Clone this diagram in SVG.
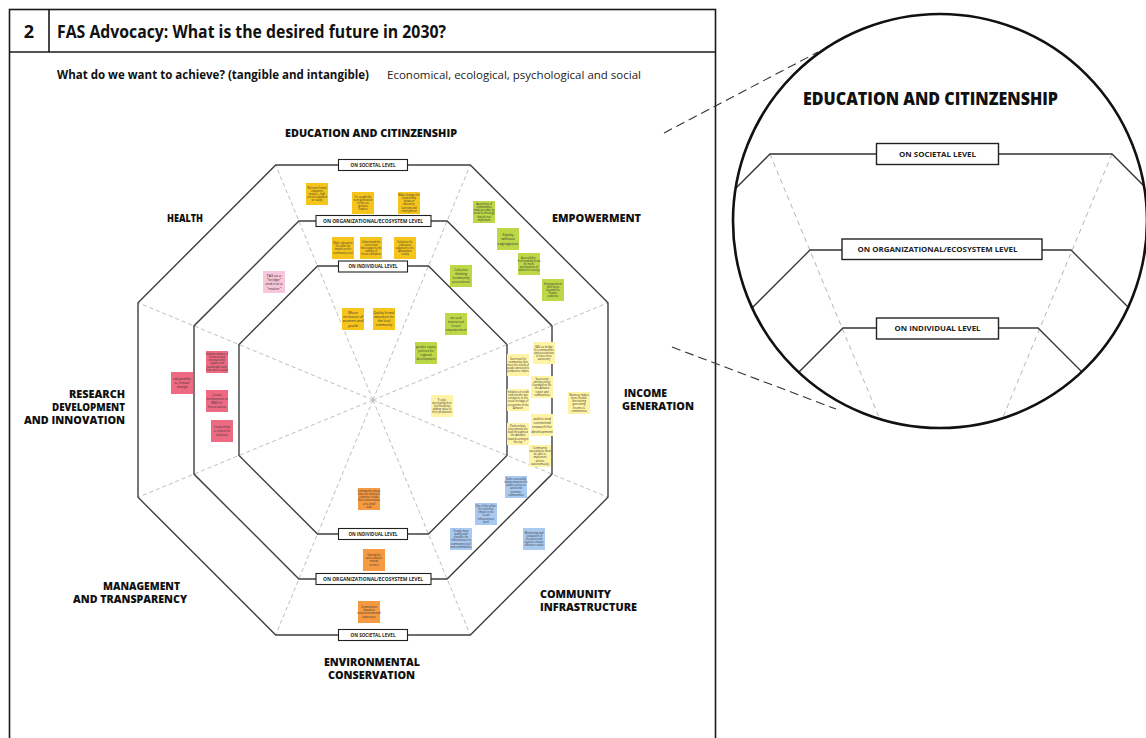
<svg xmlns="http://www.w3.org/2000/svg" width="1146" height="738" viewBox="0 0 1146 738">
<defs>
<style>
.frame{fill:none;stroke:#1a1a1a;stroke-width:1.6}
.oct{fill:none;stroke:#3f3f3f;stroke-width:1.4;stroke-linejoin:miter}
.rad{stroke:#bdbdbd;stroke-width:1;stroke-dasharray:4 3;fill:none}
.lvl{fill:#fff;stroke:#222;stroke-width:1.1}
.lvt{font-family:"Open Sans","DejaVu Sans",sans-serif;font-weight:700;font-size:4.3px;fill:#222;text-anchor:middle}
.cat{font-family:"Open Sans","DejaVu Sans",sans-serif;font-weight:800;font-size:10.5px;fill:#111}
.nt{font-family:"Open Sans","Liberation Sans",sans-serif;font-size:2.6px;fill:#333;text-anchor:middle}
.yel{fill:#f6c51b}
.grn{fill:#bdd847}
.lye{fill:#fff4a6}
.blu{fill:#a9c9f1}
.org{fill:#f69a42}
.red{fill:#ee6a83}
.pnk{fill:#f8c6da}
.mline{fill:none;stroke:#333;stroke-width:1.3}
.mrad{stroke:#b5b5b5;stroke-width:1;stroke-dasharray:5 4;fill:none}
.mbox{fill:#fff;stroke:#222;stroke-width:1.4}
.mt{font-family:"Open Sans","DejaVu Sans",sans-serif;font-weight:700;font-size:7px;fill:#222;text-anchor:middle}
.conn{stroke:#333;stroke-width:1.1;stroke-dasharray:9 5;fill:none}
</style>
<clipPath id="circ"><circle cx="940" cy="221" r="207"/></clipPath>
</defs>
<rect width="1146" height="738" fill="#fff"/>

<g id="frame">
<rect x="9.5" y="9.5" width="706" height="740" class="frame"/>
<line x1="9.5" y1="52" x2="715.5" y2="52" class="frame"/>
<line x1="49" y1="9.5" x2="49" y2="52" class="frame"/>
<text x="29" y="37.5" font-family="Open Sans, DejaVu Sans, sans-serif" font-weight="700" font-size="18" text-anchor="middle" fill="#111">2</text>
<text x="57" y="37.5" font-family="Open Sans, DejaVu Sans, sans-serif" font-weight="700" font-size="17" fill="#111" textLength="389" lengthAdjust="spacingAndGlyphs">FAS Advocacy: What is the desired future in 2030?</text>
<text x="57" y="79" font-family="Open Sans, DejaVu Sans, sans-serif" font-weight="700" font-size="11.5" fill="#111" textLength="312" lengthAdjust="spacingAndGlyphs">What do we want to achieve? (tangible and intangible)</text>
<text x="387" y="79" font-family="Open Sans, DejaVu Sans, sans-serif" font-size="11.5" fill="#222" textLength="254" lengthAdjust="spacingAndGlyphs">Economical, ecological, psychological and social</text>
</g>

<g id="octagon">
<g id="radials">
<line x1="373" y1="400" x2="275.7" y2="165" class="rad"/>
<line x1="373" y1="400" x2="470.3" y2="165" class="rad"/>
<line x1="373" y1="400" x2="608" y2="302.7" class="rad"/>
<line x1="373" y1="400" x2="608" y2="497.3" class="rad"/>
<line x1="373" y1="400" x2="470.3" y2="635" class="rad"/>
<line x1="373" y1="400" x2="275.7" y2="635" class="rad"/>
<line x1="373" y1="400" x2="138" y2="497.3" class="rad"/>
<line x1="373" y1="400" x2="138" y2="302.7" class="rad"/>
</g>
<polygon id="outer" class="oct" points="275.7,165 470.3,165 608,302.7 608,497.3 470.3,635 275.7,635 138,497.3 138,302.7"/>
<polygon id="middle" class="oct" points="298.9,221 447.1,221 552,325.9 552,474.1 447.1,579 298.9,579 194,474.1 194,325.9"/>
<polygon id="inner" class="oct" points="317.5,266 428.5,266 507,344.5 507,455.5 428.5,534 317.5,534 239,455.5 239,344.5"/>
</g>

<g id="level-top-societal"><rect x="338.5" y="159.5" width="69" height="11" class="lvl"/><text x="373" y="166.5" class="lvt" textLength="45" lengthAdjust="spacingAndGlyphs">ON SOCIETAL LEVEL</text></g>
<g id="level-top-org"><rect x="316" y="215.5" width="115" height="11" class="lvl"/><text x="373" y="222.5" class="lvt" textLength="100" lengthAdjust="spacingAndGlyphs">ON ORGANIZATIONAL/ECOSYSTEM LEVEL</text></g>
<g id="level-top-ind"><rect x="338.5" y="261" width="69" height="11" class="lvl"/><text x="373" y="268" class="lvt" textLength="49" lengthAdjust="spacingAndGlyphs">ON INDIVIDUAL LEVEL</text></g>
<g id="level-bot-ind"><rect x="338.5" y="528.5" width="69" height="11" class="lvl"/><text x="373" y="535.5" class="lvt" textLength="49" lengthAdjust="spacingAndGlyphs">ON INDIVIDUAL LEVEL</text></g>
<g id="level-bot-org"><rect x="316" y="573.5" width="115" height="11" class="lvl"/><text x="373" y="580.5" class="lvt" textLength="100" lengthAdjust="spacingAndGlyphs">ON ORGANIZATIONAL/ECOSYSTEM LEVEL</text></g>
<g id="level-bot-soc"><rect x="338.5" y="629.5" width="69" height="11" class="lvl"/><text x="373" y="636.5" class="lvt" textLength="45" lengthAdjust="spacingAndGlyphs">ON SOCIETAL LEVEL</text></g>

<g id="categories">
<text id="cat-edu" x="285" y="137" class="cat" textLength="172" lengthAdjust="spacingAndGlyphs">EDUCATION AND CITINZENSHIP</text>
<text id="cat-health" x="167" y="222" class="cat" textLength="36" lengthAdjust="spacingAndGlyphs">HEALTH</text>
<text id="cat-emp" x="552" y="222" class="cat" textLength="89" lengthAdjust="spacingAndGlyphs">EMPOWERMENT</text>
<g id="cat-income"><text x="624" y="397" class="cat" textLength="43" lengthAdjust="spacingAndGlyphs">INCOME</text><text x="622" y="410" class="cat" textLength="72" lengthAdjust="spacingAndGlyphs">GENERATION</text></g>
<g id="cat-infra"><text x="540" y="598" class="cat" textLength="71" lengthAdjust="spacingAndGlyphs">COMMUNITY</text><text x="540" y="611" class="cat" textLength="97" lengthAdjust="spacingAndGlyphs">INFRASTRUCTURE</text></g>
<g id="cat-env"><text x="324" y="666" class="cat" textLength="96" lengthAdjust="spacingAndGlyphs">ENVIRONMENTAL</text><text x="328" y="679" class="cat" textLength="87" lengthAdjust="spacingAndGlyphs">CONSERVATION</text></g>
<g id="cat-mgmt"><text x="103" y="590" class="cat" textLength="77" lengthAdjust="spacingAndGlyphs">MANAGEMENT</text><text x="73" y="603" class="cat" textLength="114" lengthAdjust="spacingAndGlyphs">AND TRANSPARENCY</text></g>
<g id="cat-research"><text x="69" y="398" class="cat" textLength="56" lengthAdjust="spacingAndGlyphs">RESEARCH</text><text x="52" y="411" class="cat" textLength="73" lengthAdjust="spacingAndGlyphs">DEVELOPMENT</text><text x="24" y="424" class="cat" textLength="101" lengthAdjust="spacingAndGlyphs">AND INNOVATION</text></g>
</g>

<g id="notes">
<g id="n-y1"><rect x="306" y="183" width="22" height="22" class="yel"/><text class="nt"><tspan x="317" y="188.7">Relevant formal</tspan><tspan x="317" dy="3.1">education</tspan><tspan x="317" dy="3.1">models - high</tspan><tspan x="317" dy="3.1">schools adapted</tspan><tspan x="317" dy="3.1">to reality</tspan></text></g>
<g id="n-y2"><rect x="352" y="192" width="22" height="22" class="yel"/><text class="nt"><tspan x="363" y="197.7">I've sought the</tspan><tspan x="363" dy="3.1">next generation</tspan><tspan x="363" dy="3.1">to face as</tspan><tspan x="363" dy="3.1">genuine</tspan><tspan x="363" dy="3.1">leaders</tspan></text></g>
<g id="n-y3"><rect x="398" y="192" width="22" height="22" class="yel"/><text class="nt"><tspan x="409" y="196.15">Make changes for</tspan><tspan x="409" dy="3.1">relationship</tspan><tspan x="409" dy="3.1">between</tspan><tspan x="409" dy="3.1">education,</tspan><tspan x="409" dy="3.1">learning and</tspan><tspan x="409" dy="3.1">employment</tspan></text></g>
<g id="n-y4"><rect x="332" y="237" width="22" height="22" class="yel"/><text class="nt"><tspan x="343" y="244.25">Make education</tspan><tspan x="343" dy="3.1">the pillar for</tspan><tspan x="343" dy="3.1">impact on the</tspan><tspan x="343" dy="3.1">community level</tspan></text></g>
<g id="n-y5"><rect x="360" y="237" width="22" height="22" class="yel"/><text class="nt"><tspan x="371" y="242.7">Understand the</tspan><tspan x="371" dy="3.1">connection</tspan><tspan x="371" dy="3.1">that supports the</tspan><tspan x="371" dy="3.1">viability of</tspan><tspan x="371" dy="3.1">forest education</tspan></text></g>
<g id="n-y6"><rect x="394" y="237" width="22" height="22" class="yel"/><text class="nt"><tspan x="405" y="242.7">Solutions for</tspan><tspan x="405" dy="3.1">education</tspan><tspan x="405" dy="3.1">adapted to the</tspan><tspan x="405" dy="3.1">Amazonian</tspan><tspan x="405" dy="3.1">reality</tspan></text></g>
<g id="n-y7"><rect x="342" y="308" width="22" height="22" class="yel"/><text class="nt" style="font-size:3.8px"><tspan x="353" y="313.5">More</tspan><tspan x="353" dy="4.4">inclusion of</tspan><tspan x="353" dy="4.4">women and</tspan><tspan x="353" dy="4.4">youth</tspan></text></g>
<g id="n-y8"><rect x="373" y="308" width="22" height="22" class="yel"/><text class="nt" style="font-size:3.2px"><tspan x="384" y="314.3">Quality formal</tspan><tspan x="384" dy="3.9">education for</tspan><tspan x="384" dy="3.9">the local</tspan><tspan x="384" dy="3.9">community</tspan></text></g>
<g id="n-h1"><rect x="263" y="271" width="22" height="22" class="pnk"/><text class="nt" style="font-size:3.8px"><tspan x="274" y="276.5">FAS as a</tspan><tspan x="274" dy="4.4">"bridge"</tspan><tspan x="274" dy="4.4">and not a</tspan><tspan x="274" dy="4.4">"maker"</tspan></text></g>
<g id="n-g1"><rect x="473" y="201" width="22" height="22" class="grn"/><text class="nt"><tspan x="484" y="205.15">Autonomy of</tspan><tspan x="484" dy="3.1">communities</tspan><tspan x="484" dy="3.1">made possible by</tspan><tspan x="484" dy="3.1">social technology</tspan><tspan x="484" dy="3.1">that do not</tspan><tspan x="484" dy="3.1">implement</tspan></text></g>
<g id="n-g2"><rect x="497" y="228" width="22" height="22" class="grn"/><text class="nt" style="font-size:3.8px"><tspan x="508" y="235.8">Equity</tspan><tspan x="508" dy="4.4">without</tspan><tspan x="508" dy="4.4">segregation</tspan></text></g>
<g id="n-g3"><rect x="518" y="253" width="22" height="22" class="grn"/><text class="nt"><tspan x="529" y="258.7">Accessibility -</tspan><tspan x="529" dy="3.1">from making room</tspan><tspan x="529" dy="3.1">for more</tspan><tspan x="529" dy="3.1">participation of</tspan><tspan x="529" dy="3.1">women in society</tspan></text></g>
<g id="n-g4"><rect x="542" y="279" width="22" height="22" class="grn"/><text class="nt"><tspan x="553" y="284.7">Empowerment</tspan><tspan x="553" dy="3.1">with focus</tspan><tspan x="553" dy="3.1">beyond the</tspan><tspan x="553" dy="3.1">female</tspan><tspan x="553" dy="3.1">audience</tspan></text></g>
<g id="n-g5"><rect x="450" y="265" width="22" height="22" class="grn"/><text class="nt" style="font-size:3.1px"><tspan x="461" y="271.3">Collective</tspan><tspan x="461" dy="3.8">thinking</tspan><tspan x="461" dy="3.8">(community</tspan><tspan x="461" dy="3.8">associations)</tspan></text></g>
<g id="n-g6"><rect x="445" y="313" width="22" height="22" class="grn"/><text class="nt" style="font-size:3.1px"><tspan x="456" y="319.3">we seek</tspan><tspan x="456" dy="3.8">transversal</tspan><tspan x="456" dy="3.8">(cross)</tspan><tspan x="456" dy="3.8">empowerment</tspan></text></g>
<g id="n-g7"><rect x="415" y="342" width="22" height="22" class="grn"/><text class="nt" style="font-size:3.1px"><tspan x="426" y="348.3">gender equity</tspan><tspan x="426" dy="3.8">policies for</tspan><tspan x="426" dy="3.8">regional</tspan><tspan x="426" dy="3.8">development</tspan></text></g>
<g id="n-l1"><rect x="533" y="342" width="22" height="22" class="lye"/><text class="nt"><tspan x="544" y="347.7">FAS is a bridge</tspan><tspan x="544" dy="3.1">for communities</tspan><tspan x="544" dy="3.1">and associations</tspan><tspan x="544" dy="3.1">to have more</tspan><tspan x="544" dy="3.1">autonomy</tspan></text></g>
<g id="n-l2"><rect x="507" y="354" width="22" height="22" class="lye"/><text class="nt"><tspan x="518" y="359.7">Gain trust for</tspan><tspan x="518" dy="3.1">community that</tspan><tspan x="518" dy="3.1">meet the needs of</tspan><tspan x="518" dy="3.1">people attracted to</tspan><tspan x="518" dy="3.1">productive chains</tspan></text></g>
<g id="n-l3"><rect x="531" y="376" width="22" height="22" class="lye"/><text class="nt"><tspan x="542" y="380.15">Succession</tspan><tspan x="542" dy="3.1">and tax policy</tspan><tspan x="542" dy="3.1">foundations for</tspan><tspan x="542" dy="3.1">the Amazon</tspan><tspan x="542" dy="3.1">region and</tspan><tspan x="542" dy="3.1">communities</tspan></text></g>
<g id="n-l4"><rect x="507" y="389" width="22" height="22" class="lye"/><text class="nt"><tspan x="518" y="393.15">Initiative on credit</tspan><tspan x="518" dy="3.1">and transfer tax</tspan><tspan x="518" dy="3.1">conducive to the</tspan><tspan x="518" dy="3.1">social heritage of</tspan><tspan x="518" dy="3.1">ecosystems in the</tspan><tspan x="518" dy="3.1">Amazon</tspan></text></g>
<g id="n-l5"><rect x="568" y="392" width="22" height="22" class="lye"/><text class="nt"><tspan x="579" y="396.15">Business makes</tspan><tspan x="579" dy="3.1">more flexible</tspan><tspan x="579" dy="3.1">functioning</tspan><tspan x="579" dy="3.1">generating</tspan><tspan x="579" dy="3.1">income to</tspan><tspan x="579" dy="3.1">communities</tspan></text></g>
<g id="n-l6"><rect x="431" y="395" width="22" height="22" class="lye"/><text class="nt"><tspan x="442" y="400.7">People</tspan><tspan x="442" dy="3.1">developing their</tspan><tspan x="442" dy="3.1">livelihoods by</tspan><tspan x="442" dy="3.1">adding value to</tspan><tspan x="442" dy="3.1">their production</tspan></text></g>
<g id="n-l7"><rect x="531" y="414" width="22" height="22" class="lye"/><text class="nt" style="font-size:3.5px"><tspan x="542" y="419.96">and to end</tspan><tspan x="542" dy="4.2">connected</tspan><tspan x="542" dy="4.2">research for</tspan><tspan x="542" dy="4.2">development</tspan></text></g>
<g id="n-l8"><rect x="507" y="423" width="22" height="22" class="lye"/><text class="nt"><tspan x="518" y="427.15">Partnerships,</tspan><tspan x="518" dy="3.1">investments are</tspan><tspan x="518" dy="3.1">built throughout</tspan><tspan x="518" dy="3.1">the Amazon</tspan><tspan x="518" dy="3.1">towards acting at</tspan><tspan x="518" dy="3.1">the top</tspan></text></g>
<g id="n-l9"><rect x="529" y="445" width="22" height="22" class="lye"/><text class="nt"><tspan x="540" y="449.15">Community</tspan><tspan x="540" dy="3.1">associations must</tspan><tspan x="540" dy="3.1">be able to</tspan><tspan x="540" dy="3.1">implement</tspan><tspan x="540" dy="3.1">actions</tspan><tspan x="540" dy="3.1">autonomously</tspan></text></g>
<g id="n-b1"><rect x="505" y="476" width="22" height="22" class="blu"/><text class="nt"><tspan x="516" y="480.15">Some successful</tspan><tspan x="516" dy="3.1">demonstrations for</tspan><tspan x="516" dy="3.1">public service in</tspan><tspan x="516" dy="3.1">spiral and</tspan><tspan x="516" dy="3.1">promote</tspan><tspan x="516" dy="3.1">communities</tspan></text></g>
<g id="n-b2"><rect x="475" y="503" width="22" height="22" class="blu"/><text class="nt"><tspan x="486" y="507.15">One of the pillars</tspan><tspan x="486" dy="3.1">for collective</tspan><tspan x="486" dy="3.1">impact is the</tspan><tspan x="486" dy="3.1">social</tspan><tspan x="486" dy="3.1">infrastructure</tspan><tspan x="486" dy="3.1">(pen)</tspan></text></g>
<g id="n-b3"><rect x="450" y="528" width="22" height="22" class="blu"/><text class="nt"><tspan x="461" y="532.15">People must</tspan><tspan x="461" dy="3.1">qualify and</tspan><tspan x="461" dy="3.1">consider the</tspan><tspan x="461" dy="3.1">infrastructure in</tspan><tspan x="461" dy="3.1">community level</tspan><tspan x="461" dy="3.1">and communities</tspan></text></g>
<g id="n-b4"><rect x="523" y="528" width="22" height="22" class="blu"/><text class="nt"><tspan x="534" y="533.7">Monitoring and</tspan><tspan x="534" dy="3.1">evaluation of</tspan><tspan x="534" dy="3.1">the protected</tspan><tspan x="534" dy="3.1">areas to ensure</tspan><tspan x="534" dy="3.1">effective results</tspan></text></g>
<g id="n-o1"><rect x="358" y="488" width="22" height="22" class="org"/><text class="nt"><tspan x="369" y="492.15">Communities must</tspan><tspan x="369" dy="3.1">have the means to</tspan><tspan x="369" dy="3.1">continue to take</tspan><tspan x="369" dy="3.1">their conservation</tspan><tspan x="369" dy="3.1">on a small</tspan><tspan x="369" dy="3.1">scale</tspan></text></g>
<g id="n-o2"><rect x="363" y="549" width="22" height="22" class="org"/><text class="nt"><tspan x="374" y="556.25">Valuing the</tspan><tspan x="374" dy="3.1">socio-environ-</tspan><tspan x="374" dy="3.1">mental</tspan><tspan x="374" dy="3.1">services</tspan></text></g>
<g id="n-o3"><rect x="358" y="601" width="22" height="22" class="org"/><text class="nt"><tspan x="369" y="608.25">Communities</tspan><tspan x="369" dy="3.1">based on</tspan><tspan x="369" dy="3.1">socioenvironmental</tspan><tspan x="369" dy="3.1">awareness</tspan></text></g>
<g id="n-r1"><rect x="171" y="372" width="22" height="22" class="red"/><text class="nt" style="font-size:3.3px"><tspan x="182" y="380.2">adaptability</tspan><tspan x="182" dy="4">to climate</tspan><tspan x="182" dy="4">change</tspan></text></g>
<g id="n-r2"><rect x="206" y="351" width="22" height="22" class="red"/><text class="nt"><tspan x="217" y="355.15">Implementation of</tspan><tspan x="217" dy="3.1">technical and</tspan><tspan x="217" dy="3.1">structured for</tspan><tspan x="217" dy="3.1">regular and</tspan><tspan x="217" dy="3.1">sustainable work</tspan><tspan x="217" dy="3.1">that can be scaled</tspan></text></g>
<g id="n-r3"><rect x="206" y="390" width="22" height="22" class="red"/><text class="nt" style="font-size:3.1px"><tspan x="217" y="396.3">Create</tspan><tspan x="217" dy="3.8">mechanisms in</tspan><tspan x="217" dy="3.8">R&amp;D for</tspan><tspan x="217" dy="3.8">forest assets</tspan></text></g>
<g id="n-r4"><rect x="211" y="420" width="22" height="22" class="red"/><text class="nt" style="font-size:2.9px"><tspan x="222" y="428.45">Connectivity</tspan><tspan x="222" dy="3.6">is critical for</tspan><tspan x="222" dy="3.6">inclusion</tspan></text></g>
</g>

<g id="connectors">
<line x1="664" y1="133" x2="818" y2="52" class="conn"/>
<line x1="672" y1="347" x2="836" y2="409" class="conn"/>
</g>

<g id="magnifier">
<circle cx="940" cy="221" r="207" fill="#fff"/>
<g clip-path="url(#circ)">
<line x1="770" y1="154" x2="905" y2="480" class="mrad"/>
<line x1="1112" y1="154" x2="977" y2="480" class="mrad"/>
<polyline points="470,454 770,154 1112,154 1412,454" class="mline"/>
<polyline points="510,550 810,250 1071,250 1371,550" class="mline"/>
<polyline points="543,628 843,328 1038,328 1338,628" class="mline"/>
</g>
<circle cx="940" cy="221" r="207" fill="none" stroke="#111" stroke-width="2.6"/>
<text x="930.5" y="105" font-family="Open Sans, DejaVu Sans, sans-serif" font-weight="800" font-size="17" text-anchor="middle" fill="#111" textLength="255" lengthAdjust="spacingAndGlyphs">EDUCATION AND CITINZENSHIP</text>
<g id="m-soc"><rect x="876.5" y="143.5" width="122" height="21" class="mbox"/><text x="937.5" y="156.5" class="mt" textLength="77" lengthAdjust="spacingAndGlyphs">ON SOCIETAL LEVEL</text></g>
<g id="m-org"><rect x="842" y="239" width="200" height="20.5" class="mbox"/><text x="937.5" y="252" class="mt" textLength="160" lengthAdjust="spacingAndGlyphs">ON ORGANIZATIONAL/ECOSYSTEM LEVEL</text></g>
<g id="m-ind"><rect x="876.5" y="318" width="122" height="21" class="mbox"/><text x="937.5" y="331" class="mt" textLength="86" lengthAdjust="spacingAndGlyphs">ON INDIVIDUAL LEVEL</text></g>
</g>
</svg>
